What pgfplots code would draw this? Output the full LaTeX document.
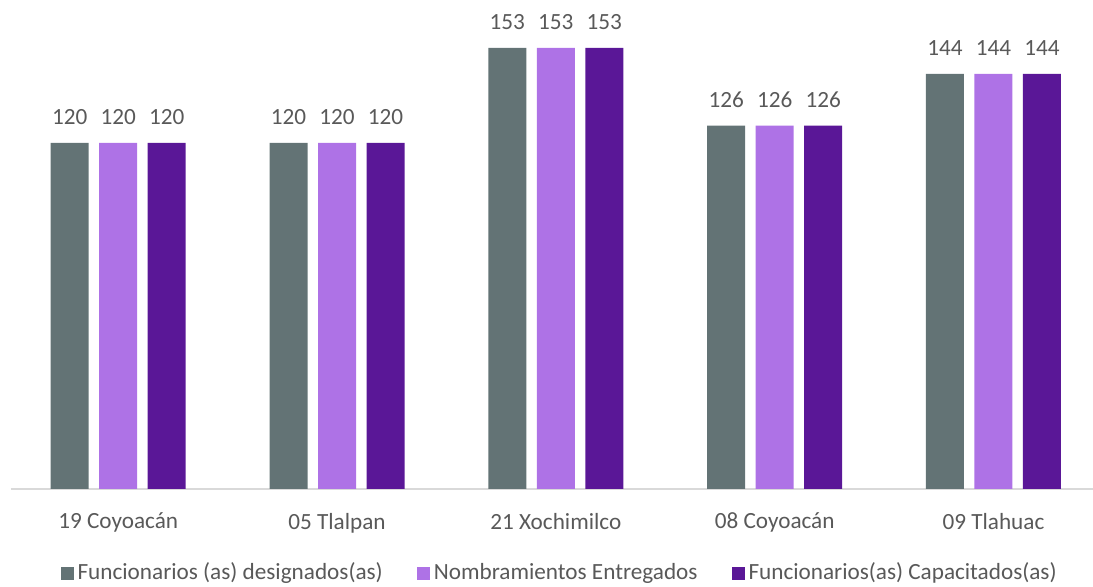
\documentclass[border=0pt]{standalone}
\usepackage{pgfplots}
\pgfplotsset{compat=1.18}
\usepackage{fontspec}
\setmainfont{Carlito}
\definecolor{cgray}{HTML}{637375}
\definecolor{clight}{HTML}{AE72E6}
\definecolor{cdark}{HTML}{5A1797}
\definecolor{ctext}{HTML}{595959}
\definecolor{caxis}{HTML}{D9D9D9}
\begin{document}
\begin{tikzpicture}
\path[use as bounding box] (0,0) rectangle (546.5pt,293.5pt);
\begin{axis}[
  at={(5.5pt,49pt)}, anchor=south west,
  scale only axis, width=541pt, height=244.5pt,
  xmin=-0.49, xmax=4.455, ymin=0, ymax=169.6,
  ybar=5.25pt, bar width=19pt,
  axis y line=none,
  axis x line*=bottom,
  x axis line style={caxis, line width=0.8pt, -},
  xtick={0,1,2,3,4},
  xticklabels={19 Coyoacán,05 Tlalpan,21 Xochimilco,08 Coyoacán,09 Tlahuac},
  major tick length=0pt,
  xticklabel style={font=\fontsize{11.6}{13}\selectfont, text=ctext, yshift=-8.5pt},
  /pgf/number format/assume math mode=true,
  nodes near coords,
  every node near coord/.append style={font=\fontsize{11.6}{13}\selectfont, text=ctext, yshift=5.5pt},
  legend columns=3,
  legend style={draw=none, at={(0.508,-0.1718)}, anchor=center, font=\fontsize{11.6}{13}\selectfont, text=ctext,
    /tikz/every even column/.append style={column sep=15pt}},
  legend image code/.code={\fill[#1] (0pt,-3.25pt) rectangle (6.5pt,3.25pt);},
]
\addplot[fill=cgray, draw=none] coordinates {(0,120) (1,120) (2,153) (3,126) (4,144)};
\addplot[fill=clight, draw=none] coordinates {(0,120) (1,120) (2,153) (3,126) (4,144)};
\addplot[fill=cdark, draw=none] coordinates {(0,120) (1,120) (2,153) (3,126) (4,144)};
\legend{Funcionarios (as) designados(as),Nombramientos Entregados,Funcionarios(as) Capacitados(as)}
\end{axis}
\end{tikzpicture}
\end{document}
